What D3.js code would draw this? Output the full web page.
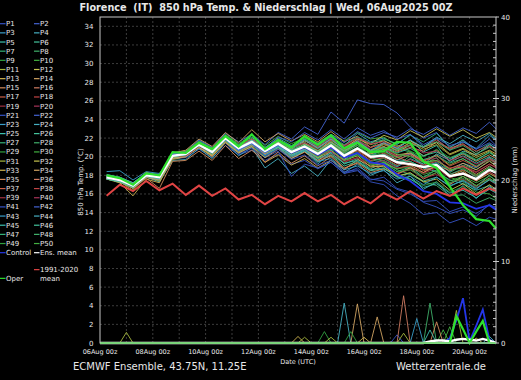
<!DOCTYPE html>
<html>
  <head>
    <meta charset="utf-8">
    <title>Florence 850 hPa Temp. & Niederschlag</title>
    <script src="https://cdn.jsdelivr.net/npm/d3@7"></script>
    <style>
    html, body {
        margin: 0;
        padding: 0;
        background: #000;
    }
    #vis text {
        font-family: 'DejaVu Sans', sans-serif;
        fill: #e8e8e8;
        white-space: pre;
    }
    .grid line {
        stroke: #3c3c3c;
        stroke-width: 1px;
        stroke-dasharray: 2,2;
    }
    .member {
        fill: none;
        stroke-width: 0.9px;
    }
    </style>
  </head>

  <body>
    <div id='vis'></div>
    <script>

      // time steps (hours after 06Aug2025 00Z)
      var tempHours = [6,18,30,42,54,66,78,90,102,114,126,138,150,162,174,186,198,210,222,234,246,258,270,282,294,306,318,330,342,354,360];

      var xTickLabels = ['06Aug 00z','08Aug 00z','10Aug 00z','12Aug 00z','14Aug 00z','16Aug 00z','18Aug 00z','20Aug 00z'];

      // 850 hPa temperature, ensemble members P1..P50
      var members = [
        [17.7,17.3,16.8,17.9,17.6,19.8,19.9,20.8,19.9,21.2,20.2,20.7,19.6,20.3,19.2,19.6,18.7,19.4,18.2,18.8,17.6,17.4,16.5,16.0,15.2,15.3,14.1,14.6,13.9,14.8,14.6],
        [17.9,17.8,17.2,18.3,18.1,20.4,20.6,21.8,21.0,22.5,21.6,22.4,21.3,22.6,21.9,23.2,22.4,24.8,23.6,26.1,25.7,25.6,24.7,23.2,22.0,22.6,21.0,21.8,20.8,21.9,21.2],
        [18.4,18.5,17.5,18.4,18.2,20.0,20.5,21.0,20.8,21.6,21.2,21.2,20.9,21.0,20.4,21.8,20.9,22.0,21.2,22.5,21.6,22.0,21.3,22.4,21.1,21.9,20.7,21.6,20.9,22.3,21.8],
        [18.0,17.6,16.6,17.8,17.3,19.6,19.7,20.9,19.8,21.5,20.1,21.0,18.8,19.8,18.2,19.0,17.9,19.7,18.3,19.2,18.0,18.6,17.2,17.9,16.5,17.3,15.8,16.9,15.5,16.8,16.2],
        [17.6,17.4,17.0,18.2,17.9,20.3,20.5,21.7,20.9,22.3,21.3,22.1,21.0,22.0,21.2,21.9,21.1,22.1,21.0,21.6,20.6,21.4,20.9,21.8,20.5,21.2,19.4,20.1,19.3,20.0,19.6],
        [17.9,17.5,16.7,18.1,17.7,20.2,20.1,21.4,20.3,22.1,20.7,21.8,20.4,21.7,20.8,21.6,20.0,20.8,19.2,19.8,18.7,19.4,18.4,18.9,17.8,18.6,17.1,17.9,16.8,18.0,17.4],
        [17.7,17.2,16.8,18.0,17.9,20.0,20.4,21.2,20.6,21.9,21.0,21.9,20.8,21.5,20.3,21.0,20.6,21.6,20.8,21.8,21.0,21.9,21.4,22.3,21.6,22.5,21.0,21.8,20.5,21.4,20.8],
        [17.8,17.6,17.1,17.9,17.6,19.8,20.2,21.0,20.1,21.7,20.5,21.2,20.0,20.9,19.9,20.6,19.7,20.2,19.3,20.4,19.5,19.8,19.0,20.1,19.2,19.9,18.3,19.1,18.6,19.6,19.0],
        [17.9,17.4,16.9,18.1,17.8,20.1,20.3,21.5,20.7,22.2,21.1,21.7,20.5,21.2,20.1,20.8,19.8,21.0,20.0,20.5,19.4,18.9,18.1,17.6,16.9,17.3,16.2,16.8,15.9,16.6,16.4],
        [17.8,17.7,17.2,18.2,18.0,20.3,20.6,21.6,20.9,22.4,21.4,22.3,21.2,22.2,21.4,22.0,21.5,22.4,21.7,22.6,21.9,22.1,21.2,20.6,19.5,19.2,17.8,17.3,16.2,16.0,15.5],
        [17.7,17.3,16.4,17.8,17.4,19.7,20.0,21.1,20.2,21.8,20.6,21.4,20.3,21.3,20.6,21.3,20.5,21.5,20.7,21.5,20.3,20.6,19.9,20.4,19.6,20.2,19.1,19.8,18.9,19.9,19.4],
        [17.8,17.5,16.8,18.0,17.7,20.2,20.4,21.3,20.6,21.9,20.8,21.5,20.5,21.6,20.8,21.7,21.0,21.9,21.2,22.0,21.4,22.3,21.8,22.8,22.1,23.0,22.2,22.9,22.0,22.6,22.1],
        [17.6,17.2,15.8,17.6,17.2,19.9,20.1,21.0,20.0,21.6,20.4,21.1,19.4,20.2,19.1,19.8,18.8,19.6,18.6,19.7,19.0,19.3,18.7,19.1,18.3,19.0,17.9,18.5,17.4,18.2,17.8],
        [17.9,17.6,17.0,18.3,17.9,20.4,20.7,21.9,21.1,22.6,21.5,22.9,21.6,22.5,21.7,22.4,21.6,22.7,21.6,22.2,21.0,21.5,20.6,21.2,20.1,20.7,19.6,20.3,19.5,20.2,19.8],
        [17.8,17.4,16.6,17.7,16.6,19.5,19.6,20.6,19.6,21.2,19.8,20.7,19.4,20.5,19.3,20.1,19.0,20.0,18.7,19.4,18.5,19.1,18.2,18.8,17.6,18.3,17.0,17.9,16.9,17.7,17.2],
        [17.7,17.5,16.9,18.0,17.8,20.2,20.5,21.3,20.4,21.9,20.7,21.3,20.3,21.0,20.2,21.4,20.6,21.4,20.4,21.6,20.7,21.1,20.5,21.0,20.6,21.6,20.9,21.4,20.3,21.1,20.5],
        [17.6,17.6,17.1,18.1,17.9,20.0,20.2,21.2,20.4,21.7,20.9,21.8,20.8,21.7,20.9,21.5,20.7,21.4,20.3,20.6,19.6,19.9,19.1,19.3,18.5,18.9,18.1,18.6,17.9,18.6,18.2],
        [17.9,17.3,16.9,17.9,17.6,19.9,20.0,21.1,20.1,21.6,20.5,21.5,20.5,21.3,20.0,20.9,20.2,21.3,20.6,21.7,21.0,21.4,20.8,21.5,21.0,21.8,20.8,21.3,20.6,21.2,20.7],
        [17.8,17.5,17.0,18.0,17.7,20.0,20.3,21.4,20.5,22.0,20.8,21.4,20.2,21.0,19.9,20.5,19.6,20.3,19.4,19.9,18.9,19.1,18.2,18.6,17.7,18.1,17.2,17.6,16.7,17.5,17.0],
        [17.7,17.4,16.8,18.1,17.8,20.1,20.4,21.5,20.7,22.1,21.1,21.9,20.9,21.9,21.0,21.8,21.1,22.0,21.1,21.8,20.8,20.9,20.1,20.3,19.7,19.8,18.6,18.9,18.3,19.2,18.8],
        [17.8,17.5,16.9,18.0,17.8,20.1,20.2,21.1,20.2,21.5,20.3,20.9,19.9,20.6,17.9,19.2,18.8,19.4,18.2,18.5,17.3,17.0,15.8,15.0,13.8,14.0,12.9,13.4,12.6,13.5,13.3],
        [17.9,17.6,17.0,18.0,17.8,20.3,20.5,21.4,20.6,22.0,20.9,21.7,20.7,21.8,21.1,22.2,21.4,22.4,21.5,22.7,22.0,22.6,22.1,23.0,22.4,23.2,22.3,23.1,22.5,23.7,23.0],
        [17.7,17.4,16.7,17.8,17.5,19.9,20.0,21.1,20.2,21.8,20.6,21.3,20.1,21.0,19.8,20.6,19.2,20.5,19.6,20.9,20.1,20.8,19.6,20.3,18.9,19.4,18.4,19.3,18.8,19.9,19.2],
        [18.1,17.8,17.2,18.2,18.0,20.2,20.4,21.4,20.8,22.1,21.0,21.7,20.7,21.5,20.4,20.8,20.0,20.7,19.6,20.3,19.3,19.6,18.9,19.8,19.2,20.3,19.6,20.6,20.2,21.3,20.9],
        [17.8,17.5,17.1,17.9,17.7,20.0,20.3,21.2,20.4,21.8,20.8,21.5,20.6,21.3,20.7,21.2,20.4,21.1,20.2,20.9,19.8,20.3,19.7,19.5,18.8,18.4,17.5,17.1,16.4,16.9,16.3],
        [17.6,17.3,16.9,18.0,17.8,20.2,20.3,21.3,20.3,21.9,20.6,21.3,20.2,21.0,20.0,20.6,19.4,20.2,19.0,19.5,18.5,18.7,17.9,18.2,17.4,17.8,16.8,17.5,16.6,17.5,17.1],
        [17.9,17.6,17.0,18.1,17.9,20.2,20.4,21.3,20.6,22.0,21.0,21.9,21.0,21.8,21.1,21.9,21.2,22.2,21.3,22.1,21.5,21.8,20.9,20.5,19.7,20.1,19.3,19.8,19.0,19.8,19.4],
        [17.8,17.4,16.8,18.0,17.8,20.0,20.1,21.1,20.3,21.7,20.4,21.3,20.4,21.2,20.2,20.7,19.9,20.9,20.0,20.7,19.9,19.5,18.6,18.1,17.3,16.9,15.8,15.9,15.0,15.6,15.3],
        [17.7,17.5,16.9,17.9,17.7,20.1,20.3,21.3,20.5,22.0,20.8,21.6,20.8,21.6,20.9,21.5,20.8,21.7,20.9,21.2,20.1,20.5,19.9,20.6,20.0,20.8,19.9,20.5,19.7,20.4,20.0],
        [17.8,17.6,17.0,18.1,17.9,20.3,20.6,21.6,20.9,22.3,21.2,22.0,20.8,21.7,20.6,21.2,20.2,21.0,19.8,20.3,19.1,19.4,18.7,18.9,18.1,18.5,17.4,17.9,17.2,17.9,17.5],
        [17.6,17.3,16.7,17.9,17.6,19.9,20.1,21.0,20.2,21.6,20.5,21.4,20.4,21.4,20.5,21.2,20.5,21.6,20.6,21.5,20.6,21.3,20.7,21.5,20.8,21.3,20.2,20.8,19.9,20.6,20.1],
        [17.9,17.7,17.1,18.2,18.0,20.3,20.5,21.5,20.7,22.2,21.0,21.8,20.7,21.3,20.2,21.0,19.9,20.6,19.6,20.1,18.9,19.0,17.9,18.3,17.3,17.6,16.4,17.1,16.0,17.0,16.5],
        [17.8,17.5,16.9,18.0,17.7,20.1,20.3,21.3,20.5,21.9,20.9,21.5,20.6,21.5,20.6,21.4,20.6,21.8,20.9,21.9,21.3,21.7,21.1,21.7,21.0,21.5,20.3,20.9,20.1,20.7,20.3],
        [17.7,17.3,16.6,17.8,17.5,19.8,20.0,21.0,20.1,21.5,20.4,21.1,19.9,20.8,19.8,20.5,19.6,20.6,19.7,20.8,20.3,21.1,20.2,20.4,19.4,19.6,18.7,19.3,18.6,19.5,19.0],
        [17.9,17.6,16.9,18.1,17.8,20.2,20.4,21.4,20.6,22.2,21.1,21.9,20.9,21.6,20.4,20.9,19.5,20.1,18.8,19.3,18.3,18.7,18.1,18.8,18.3,19.1,18.5,19.0,18.1,19.0,18.5],
        [17.8,17.4,16.8,17.9,17.6,20.0,20.2,21.2,20.4,21.8,20.6,21.3,20.3,21.2,20.5,21.3,20.6,21.6,20.5,21.4,20.4,20.8,20.0,19.4,18.6,18.9,17.8,18.1,17.4,18.4,17.9],
        [17.7,17.5,17.0,18.0,17.8,20.1,20.4,21.3,20.5,22.0,20.9,21.7,20.6,21.4,20.3,20.8,20.0,20.9,20.0,20.7,19.8,20.4,19.7,20.2,19.5,20.1,19.0,19.6,18.9,19.7,19.3],
        [17.8,17.6,17.1,18.1,17.9,20.1,20.3,21.4,20.6,22.1,21.0,21.6,20.5,21.5,20.5,21.2,20.5,21.3,20.2,20.8,19.9,20.1,19.3,19.7,19.1,19.5,18.8,19.0,18.4,19.2,18.9],
        [17.7,17.4,16.8,17.9,17.7,20.0,20.1,21.1,20.4,21.9,20.8,21.6,20.7,21.4,20.6,21.0,20.1,20.6,19.5,19.9,19.2,19.6,18.8,19.0,18.2,18.8,17.7,18.3,17.6,18.3,18.0],
        [17.9,17.6,17.0,18.0,17.8,20.2,20.5,21.5,20.8,22.2,21.1,21.9,20.9,21.8,21.0,21.5,20.9,21.8,21.2,22.0,21.4,21.6,21.0,21.2,20.4,20.6,19.6,20.0,19.2,19.8,19.5],
        [17.8,17.5,16.9,18.0,17.7,20.1,20.2,21.2,20.4,21.9,20.7,21.4,20.1,20.8,19.7,20.2,19.1,19.6,18.4,18.6,17.5,17.8,16.6,16.2,15.1,14.6,13.9,14.3,13.6,14.9,14.4],
        [17.9,17.7,17.1,18.1,17.9,20.3,20.5,21.4,20.5,21.8,20.6,21.6,20.9,22.1,21.6,22.6,21.8,22.9,21.9,23.1,22.3,22.8,21.9,22.4,21.3,22.0,21.2,21.6,20.8,21.5,21.1],
        [17.7,17.4,16.8,17.9,17.7,20.0,20.2,21.2,20.4,21.8,20.7,21.5,20.5,21.2,20.1,20.7,19.5,19.8,18.6,19.0,18.2,18.5,17.6,17.9,17.0,17.8,16.9,17.4,16.5,17.6,17.2],
        [17.8,17.6,17.0,18.0,17.8,20.1,20.3,21.3,20.6,22.1,21.0,21.8,20.8,21.7,20.9,21.8,20.9,21.9,20.8,21.7,20.7,21.5,20.9,21.8,21.0,22.1,21.4,22.3,21.6,22.5,21.9],
        [17.6,17.3,16.7,17.9,17.6,20.0,20.2,21.2,20.4,21.8,20.7,21.4,20.4,21.1,20.2,20.8,19.8,20.4,19.3,19.6,18.6,18.8,17.8,17.6,16.7,17.1,16.1,16.4,15.6,16.5,16.1],
        [17.9,17.5,16.9,18.1,17.9,20.2,20.4,21.4,20.6,22.0,20.9,21.7,20.6,21.4,20.7,21.3,20.6,21.5,20.6,21.4,20.5,21.0,20.4,20.9,20.1,20.5,19.8,20.4,19.6,20.5,20.0],
        [17.8,17.4,16.8,18.0,17.8,20.1,20.4,21.3,20.5,21.9,20.8,21.6,20.6,21.4,20.6,21.2,20.4,21.2,20.3,21.0,20.2,20.2,19.5,19.5,18.8,19.3,18.1,18.7,17.8,18.9,18.5],
        [17.7,17.5,17.0,18.0,17.7,20.0,20.3,21.2,20.5,22.0,20.9,21.7,20.7,21.5,20.6,21.3,20.5,21.4,20.4,21.2,20.6,21.0,20.7,21.3,21.1,21.6,20.7,21.2,20.3,21.0,20.6],
        [17.8,17.6,16.9,18.1,17.9,20.2,20.3,21.3,20.5,22.0,20.9,21.6,20.5,21.3,20.3,21.0,20.0,20.8,19.6,20.2,19.2,19.3,18.4,18.6,17.8,18.3,17.2,17.7,16.9,17.6,17.3],
        [17.9,17.5,17.0,18.0,17.8,20.1,20.4,21.4,20.6,22.1,21.0,21.6,20.6,21.5,20.6,21.2,20.4,21.4,20.5,21.2,20.4,20.9,20.3,20.0,19.4,19.6,18.6,18.8,18.0,18.8,18.4]
      ];

      var controlTemp = [17.8,17.5,16.9,18.0,17.8,20.2,20.3,21.3,20.5,22.0,20.8,21.5,20.5,21.3,20.4,21.0,20.2,21.0,19.9,20.4,19.4,19.2,18.1,17.4,16.3,16.0,15.1,15.0,14.4,14.8,14.3];
      var meanTemp = [17.8,17.5,16.9,18.0,17.8,20.1,20.3,21.3,20.5,22.0,20.9,21.6,20.6,21.4,20.5,21.1,20.3,21.2,20.1,20.9,20.0,20.1,19.4,19.2,18.9,19.1,17.9,18.2,17.6,18.6,18.3];
      var operTemp = [18.0,17.7,17.0,18.2,18.0,20.5,20.4,21.5,20.8,22.2,21.1,22.4,20.8,21.8,21.0,22.2,21.3,22.3,20.9,21.5,20.5,20.6,21.6,21.5,19.5,18.8,16.8,14.8,13.3,13.1,12.3];
      var climTemp = [15.8,17.0,16.3,17.4,16.4,17.1,15.9,16.9,15.8,16.6,15.4,15.9,14.9,15.8,15.2,16.1,15.2,15.9,14.9,15.7,15.0,16.1,15.4,16.3,15.5,16.3,15.8,16.6,15.9,16.6,16.3];

      // precipitation (mm / 6h): [series, hour, mm]; every other step is 0
      var precipEvents = [
        ['P11',24,1.3], ['P13',180,0.8], ['P11',186,0.7], ['P9',204,1.4], ['P31',210,0.7],
        ['P4',222,4.9], ['P29',228,1.4], ['P14',234,4.8], ['P33',240,0.7], ['P34',252,3.2],
        ['P1',270,1.0], ['P16',276,5.8], ['P31',276,1.2], ['P23',288,3.0], ['P8',300,4.9],
        ['P25',300,1.6], ['P15',306,2.6], ['P10',312,1.6], ['P30',318,2.0], ['P11',324,4.0],
        ['P32',342,0.6], ['P44',354,0.8],
        ['Control',318,0.6], ['Control',324,2.8], ['Control',330,5.5], ['Control',336,0.2],
        ['Control',342,2.1], ['Control',348,4.1], ['Control',354,0.4],
        ['Oper',324,3.3], ['Oper',330,1.7], ['Oper',342,1.4], ['Oper',348,2.7],
        ['Ens. mean',300,0.2], ['Ens. mean',306,0.3], ['Ens. mean',312,0.3], ['Ens. mean',318,0.2],
        ['Ens. mean',324,0.4], ['Ens. mean',330,0.5], ['Ens. mean',336,0.4], ['Ens. mean',342,0.3],
        ['Ens. mean',348,0.5], ['Ens. mean',354,0.3]
      ];

      var palette = ['#3552c4','#4464d4','#3a9ec8','#46b0c2','#3cc0ae','#44c49c','#34b078','#40b06a','#30a040','#42b040',
                     '#a6b83e','#c8c450','#d0b450','#d0a462','#d48c5c','#d07c62','#cc6048','#c24444','#a03040','#a8345a'];

      var width = 521;
      var height = 380;
      var plotLeft = 100, plotRight = 496, plotTop = 17, plotBottom = 343;

      var x = d3.scaleLinear().domain([0, 360]).range([plotLeft, plotRight]);
      var yT = d3.scaleLinear().domain([0, 35]).range([plotBottom, plotTop]);
      var yP = d3.scaleLinear().domain([0, 40]).range([plotBottom, plotTop]);

      var svg = d3.select('#vis').append('svg')
          .attr('width', width)
          .attr('height', height)
          .style('background', '#000');

      // grid
      var grid = svg.append('g').attr('class', 'grid');
      grid.selectAll('line.h')
          .data(d3.range(2, 35, 2))
          .enter().append('line')
          .attr('class', 'h')
          .attr('x1', plotLeft).attr('x2', plotRight)
          .attr('y1', function(d) { return yT(d); })
          .attr('y2', function(d) { return yT(d); });
      grid.selectAll('line.v')
          .data(d3.range(24, 360, 24))
          .enter().append('line')
          .attr('class', 'v')
          .attr('y1', plotTop).attr('y2', plotBottom)
          .attr('x1', function(d) { return x(d); })
          .attr('x2', function(d) { return x(d); });

      function colorOf(name) {
        if (name == 'Control') return '#2436e8';
        if (name == 'Oper') return '#2ee02e';
        if (name == 'Ens. mean') return '#ffffff';
        var i = +name.slice(1) - 1;
        return palette[i % 20];
      }

      var plot = svg.append('g');
      var tLine = d3.line()
          .x(function(d, i) { return x(tempHours[i]); })
          .y(function(d) { return yT(d); });
      var pLine = d3.line()
          .x(function(d) { return x(d[0]); })
          .y(function(d) { return yP(d[1]); });

      var pHours = d3.range(0, 361, 6);
      function precipSeries(name) {
        return pHours.map(function(h) {
          var ev = precipEvents.filter(function(e) { return e[0] == name && e[1] == h; });
          return [h, d3.sum(ev, function(e) { return e[2]; })];
        });
      }

      var names = members.map(function(d, i) { return 'P' + (i + 1); });

      // precipitation of members
      plot.selectAll('path.pm')
          .data(names)
          .enter().append('path')
          .attr('class', 'member pm')
          .attr('d', function(d) { return pLine(precipSeries(d)); })
          .style('stroke', colorOf);

      // temperature of members
      plot.selectAll('path.tm')
          .data(members)
          .enter().append('path')
          .attr('class', 'member tm')
          .attr('d', tLine)
          .style('stroke', function(d, i) { return colorOf(names[i]); });

      function special(name, temp, w) {
        plot.append('path').attr('d', pLine(precipSeries(name)))
            .style('fill', 'none').style('stroke', colorOf(name)).style('stroke-width', w);
        plot.append('path').attr('d', tLine(temp))
            .style('fill', 'none').style('stroke', colorOf(name)).style('stroke-width', w);
      }
      special('Control', controlTemp, 1.8);
      special('Ens. mean', meanTemp, 2.4);
      special('Oper', operTemp, 2.2);

      plot.append('path').attr('d', tLine(climTemp))
          .style('fill', 'none').style('stroke', '#e04444').style('stroke-width', 2);

      // frame
      svg.append('rect')
          .attr('x', plotLeft).attr('y', plotTop)
          .attr('width', plotRight - plotLeft).attr('height', plotBottom - plotTop)
          .style('fill', 'none').style('stroke', '#c8c8c8').style('stroke-width', 1);

      // left axis labels
      svg.selectAll('text.yl')
          .data(d3.range(0, 35, 2))
          .enter().append('text')
          .attr('class', 'yl')
          .attr('x', 93.5)
          .attr('y', function(d) { return yT(d) + 2.5; })
          .attr('text-anchor', 'end')
          .style('font-size', '7px')
          .text(function(d) { return d; });

      // right axis ticks and labels
      svg.selectAll('line.minor')
          .data(d3.range(1, 40))
          .enter().append('line')
          .attr('class', 'minor')
          .attr('x1', plotRight - 3).attr('x2', plotRight)
          .attr('y1', function(d) { return yP(d); })
          .attr('y2', function(d) { return yP(d); })
          .style('stroke', '#c8c8c8');
      svg.selectAll('line.major')
          .data(d3.range(0, 41, 10))
          .enter().append('line')
          .attr('class', 'major')
          .attr('x1', plotRight).attr('x2', plotRight + 3)
          .attr('y1', function(d) { return yP(d); })
          .attr('y2', function(d) { return yP(d); })
          .style('stroke', '#c8c8c8');
      svg.selectAll('text.yr')
          .data(d3.range(0, 41, 10))
          .enter().append('text')
          .attr('class', 'yr')
          .attr('x', 501)
          .attr('y', function(d) { return yP(d) + 2.5; })
          .style('font-size', '7px')
          .text(function(d) { return d; });

      // x labels
      svg.selectAll('text.xl')
          .data(xTickLabels)
          .enter().append('text')
          .attr('class', 'xl')
          .attr('x', function(d, i) { return x(i * 48); })
          .attr('y', 354)
          .attr('text-anchor', 'middle')
          .style('font-size', '6.5px')
          .text(function(d) { return d; });

      svg.append('text').attr('x', 298).attr('y', 363.5)
          .attr('text-anchor', 'middle').style('font-size', '6.5px').text('Date (UTC)');

      svg.append('text')
          .attr('transform', 'translate(83,182) rotate(-90)')
          .attr('text-anchor', 'middle').style('font-size', '7px')
          .text('850 hPa Temp. (°C)');
      svg.append('text')
          .attr('transform', 'translate(517,180) rotate(-90)')
          .attr('text-anchor', 'middle').style('font-size', '7px')
          .text('Niederschlag (mm)');

      // title and footer
      svg.append('text').attr('x', 266).attr('y', 11)
          .attr('text-anchor', 'middle')
          .style('font-size', '9.7px').style('font-weight', 'bold')
          .text('Florence  (IT)  850 hPa Temp. & Niederschlag | Wed, 06Aug2025 00Z');
      svg.append('text').attr('x', 73).attr('y', 370)
          .style('font-size', '10px')
          .text('ECMWF Ensemble, 43.75N, 11.25E');
      svg.append('text').attr('x', 486).attr('y', 370)
          .attr('text-anchor', 'end')
          .style('font-size', '10px')
          .text('Wetterzentrale.de');

      // legend
      var legendItems = names.map(function(d, i) {
        return {name: d, col: i % 2, row: Math.floor(i / 2), color: colorOf(d)};
      });
      legendItems.push({name: 'Control', col: 0, row: 25, color: colorOf('Control')});
      legendItems.push({name: 'Ens. mean', col: 1, row: 25, color: '#ffffff'});
      legendItems.push({name: '1991-2020', col: 1, row: 26.85, color: '#e04444'});
      legendItems.push({name: 'Oper', col: 0, row: 27.8, color: colorOf('Oper')});

      var legend = svg.append('g');
      var lg = legend.selectAll('g')
          .data(legendItems)
          .enter().append('g')
          .attr('transform', function(d) {
            return 'translate(' + (d.col * 34) + ',' + (23.7 + d.row * 9.16) + ')';
          });
      lg.append('line')
          .attr('x1', 0).attr('x2', 5.5)
          .style('stroke', function(d) { return d.color; })
          .style('stroke-width', 1.2);
      lg.append('text')
          .attr('x', 6)
          .attr('y', 2.5)
          .style('font-size', '7px')
          .text(function(d) { return d.name; });
      legend.append('text').attr('x', 40).attr('y', 23.7 + 27.8 * 9.16 + 2.5)
          .style('font-size', '7px').text('mean');

    </script>
  </body>
</html>
